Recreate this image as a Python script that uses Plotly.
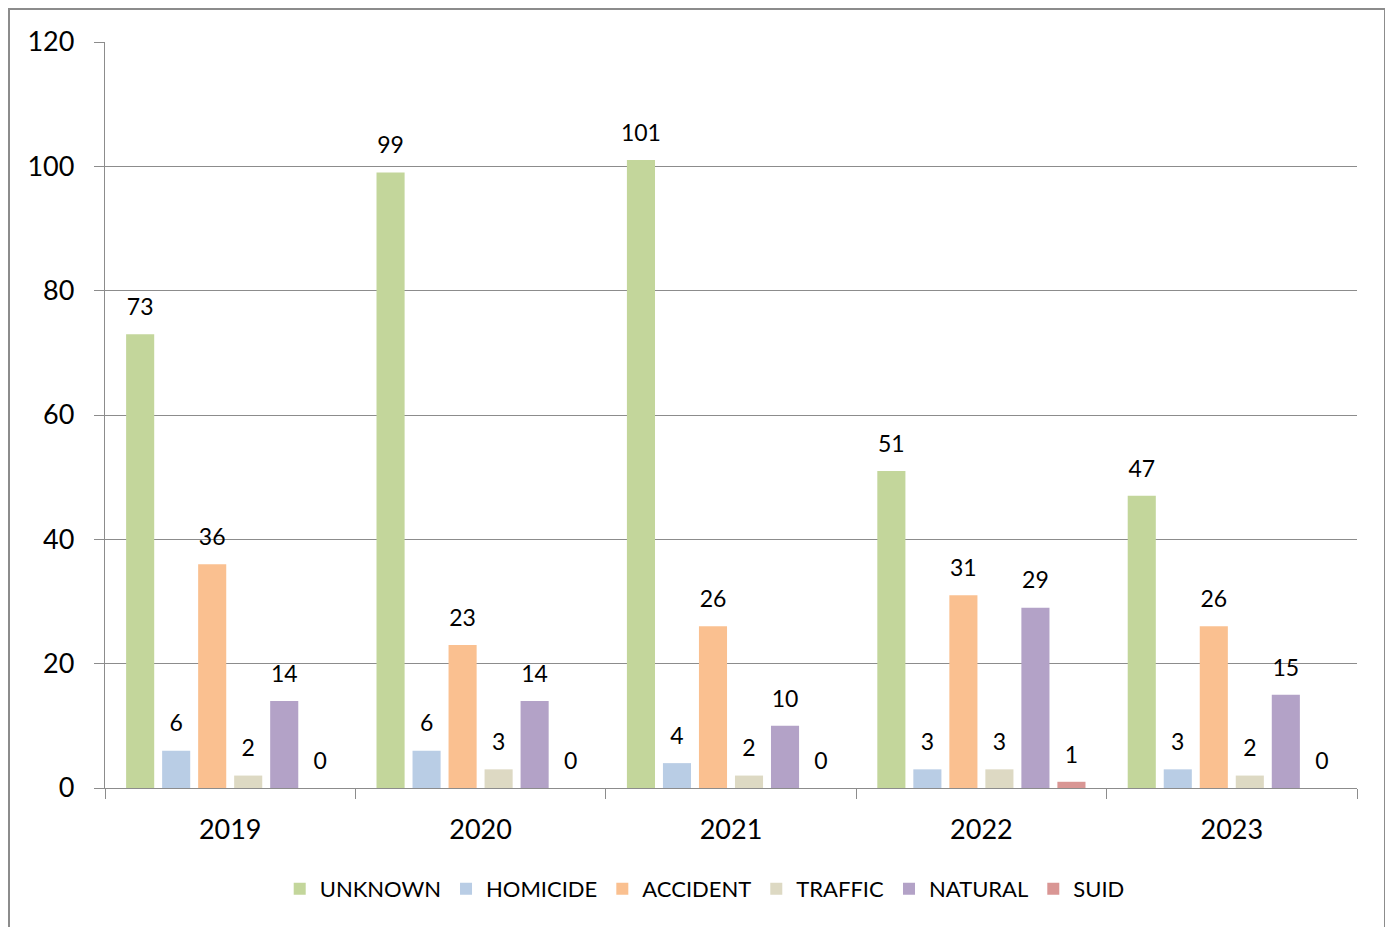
import plotly.graph_objects as go

years = ["2019", "2020", "2021", "2022", "2023"]
series_names = ["UNKNOWN", "HOMICIDE", "ACCIDENT", "TRAFFIC", "NATURAL", "SUID"]
unknown = [73, 99, 101, 51, 47]
homicide = [6, 6, 4, 3, 3]
accident = [36, 23, 26, 31, 26]
traffic = [2, 3, 2, 3, 2]
natural = [14, 14, 10, 29, 15]
suid = [0, 0, 0, 1, 0]
colors = ["#C3D69B", "#B9CDE5", "#FAC090", "#DDD9C3", "#B3A2C7", "#D99694"]

values = [unknown, homicide, accident, traffic, natural, suid]
FONT = "Lato, Calibri, Arial, sans-serif"

# plot area in page pixels (page has an 8px body margin)
L, R, T, B = 97, 1349, 34, 780
W, H = 1393, 927

fig = go.Figure()
for name, vals, col in zip(series_names, values, colors):
    fig.add_trace(go.Bar(
        name=name, x=years, y=vals, marker=dict(color=col, line=dict(width=0)),
        offsetgroup=name,
    ))
for name, vals in zip(series_names, values):
    fig.add_trace(go.Scatter(
        x=years, y=vals, mode="markers+text", text=[str(v) for v in vals],
        textposition="top center", textfont=dict(size=23, color="black", family=FONT),
        marker=dict(size=20, opacity=0), showlegend=False, hoverinfo="skip",
        offsetgroup=name, cliponaxis=False,
    ))

fig.update_layout(
    width=W, height=H,
    margin=dict(l=L, r=W - R, t=T, b=H - B),
    paper_bgcolor="white", plot_bgcolor="white",
    barmode="group", bargap=0.137, bargroupgap=0.22,
    scattermode="group", scattergap=0.137,
    font=dict(family=FONT, color="black"),
    legend=dict(orientation="h", x=0.479, xanchor="center", y=(B - 881) / (B - T), yanchor="middle",
                font=dict(size=22), itemwidth=30, traceorder="normal"),
    shapes=[dict(type="rect", xref="paper", yref="paper",
                 x0=(1 - L) / (R - L), x1=(1377 - L) / (R - L),
                 y0=(B - 940) / (B - T), y1=(B - 1) / (B - T),
                 line=dict(color="#8C8C8C", width=2), fillcolor="rgba(0,0,0,0)", layer="below")],
)
fig.update_yaxes(range=[0, 120], dtick=20, showgrid=True, gridcolor="#8C8C8C", gridwidth=1.3,
                 showline=True, linecolor="#8C8C8C", linewidth=1.3, ticks="outside", ticklen=10,
                 tickcolor="#8C8C8C", tickfont=dict(size=27), ticklabelstandoff=14, zeroline=False)
fig.update_xaxes(showline=True, linecolor="#8C8C8C", linewidth=1.3, ticks="outside", ticklen=10,
                 tickcolor="#8C8C8C", tickson="boundaries", tickfont=dict(size=27),
                 ticklabelstandoff=17, showgrid=False)

fig.write_html("out.html")
